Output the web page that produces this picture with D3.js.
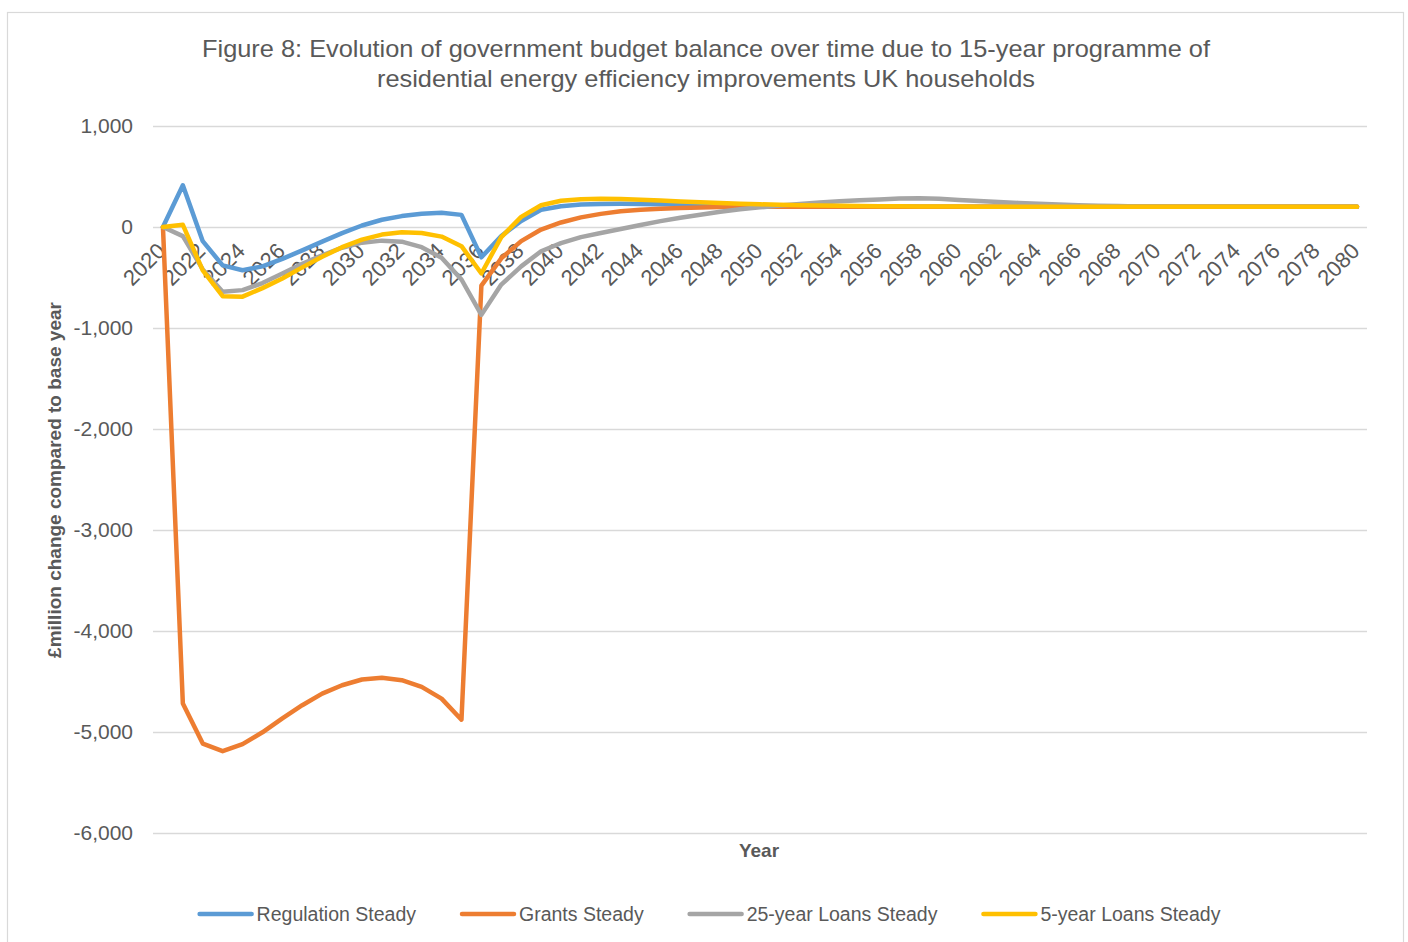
<!DOCTYPE html>
<html>
<head>
<meta charset="utf-8">
<script src="https://cdn.jsdelivr.net/npm/d3@7"></script>
<style>
  html, body { margin: 0; padding: 0; background: #ffffff; }
  svg { display: block; }
  text { font-family: "Liberation Sans", Arial, sans-serif; fill: #595959; }
</style>
</head>
<body>
<svg id="chart" width="1408" height="942"></svg>
<script>
// Years on the category axis
const years = d3.range(2020, 2081);

// £million change compared to base year, one value per year 2020–2080
const regulationSteady = [
  0, 413, -140, -380, -428, -390, -315, -232, -145, -60,
  15, 72, 108, 132, 140, 120, -300, -90, 60, 170,
  205, 222, 228, 230, 228, 225, 222, 218, 215, 212,
  210, 208, 206, 205, 204, 203, 202, 202, 201, 201,
  200, 200, 200, 200, 200, 200, 200, 200, 200, 200,
  200, 200, 200, 200, 200, 200, 200, 200, 200, 200, 200
];
const grantsSteady = [
  0, -4718, -5115, -5190, -5120, -5003, -4865, -4735, -4620, -4537,
  -4480, -4463, -4487, -4553, -4670, -4878, -580, -310, -140, -25,
  45, 95, 130, 155, 170, 180, 188, 193, 197, 199,
  200, 200, 200, 200, 200, 200, 200, 200, 200, 200,
  200, 200, 200, 200, 200, 200, 200, 200, 200, 200,
  200, 200, 200, 200, 200, 200, 200, 200, 200, 200, 200
];
const loans25Steady = [
  0, -90, -420, -640, -625, -555, -460, -365, -280, -205,
  -155, -135, -145, -200, -305, -520, -870, -570, -390, -240,
  -160, -100, -60, -20, 20, 58, 92, 122, 150, 175,
  195, 212, 228, 242, 255, 265, 273, 282, 285, 280,
  268, 258, 248, 238, 230, 222, 216, 211, 207, 204,
  202, 201, 200, 200, 200, 200, 200, 200, 200, 200, 200
];
const loans5Steady = [
  0, 22, -430, -685, -690, -605, -510, -400, -295, -200,
  -125, -75, -52, -60, -95, -190, -460, -100, 100, 215,
  260, 275, 280, 278, 270, 262, 253, 245, 237, 230,
  225, 220, 216, 213, 210, 208, 206, 205, 204, 203,
  202, 201, 200, 200, 200, 200, 200, 200, 200, 200,
  200, 200, 200, 200, 200, 200, 200, 200, 200, 200, 200
];

const seriesNames = ["Regulation Steady", "Grants Steady", "25-year Loans Steady", "5-year Loans Steady"];
const seriesValues = [regulationSteady, grantsSteady, loans25Steady, loans5Steady];
const seriesColors = ["#5B9BD5", "#ED7D31", "#A5A5A5", "#FFC000"];

const yTicks = [1000, 0, -1000, -2000, -3000, -4000, -5000, -6000];
const xLabelYears = years.filter(y => (y - 2020) % 2 === 0);

const titleLines = [
  "Figure 8: Evolution of government budget balance over time due to 15-year programme of",
  "residential energy efficiency improvements UK households"
];
const yAxisTitle = "£million change compared to base year";
const xAxisTitle = "Year";

const svg = d3.select("#chart");
const FONT = "\"Liberation Sans\", Arial, sans-serif";

// Chart area border
svg.append("rect")
  .attr("x", 7.5).attr("y", 12.5)
  .attr("width", 1396).attr("height", 940)
  .attr("fill", "#ffffff")
  .attr("stroke", "#d9d9d9")
  .attr("stroke-width", 1.2);

const plot = { left: 153, right: 1367, top: 126, bottom: 833 };

const x = d3.scalePoint()
  .domain(years)
  .range([plot.left, plot.right])
  .padding(0.5);

const y = d3.scaleLinear()
  .domain([-6000, 1000])
  .range([plot.bottom, plot.top]);

// Title, two centred lines
const titleWidths = [1008, 658];
titleLines.forEach((t, i) => {
  svg.append("text")
    .attr("x", 706)
    .attr("y", 57 + i * 30)
    .attr("text-anchor", "middle")
    .attr("textLength", titleWidths[i])
    .attr("lengthAdjust", "spacingAndGlyphs")
    .style("font-size", "24px")
    .text(t);
});

// Horizontal gridlines + value labels (hyphen minus, thousands separator)
const fmt = d3.format(",");
const yAxis = d3.axisLeft(y)
  .tickValues(yTicks)
  .tickSize(-(plot.right - plot.left))
  .tickPadding(20)
  .tickFormat(d => fmt(d).replace("\u2212", "-"));

const gy = svg.append("g")
  .attr("transform", `translate(${plot.left},0)`)
  .call(yAxis);
gy.select(".domain").remove();
gy.selectAll(".tick line")
  .attr("stroke", "#d9d9d9")
  .attr("stroke-width", 1.3);
gy.selectAll(".tick text")
  .style("font-size", "21px")
  .style("fill", "#595959")
  .style("font-family", FONT);

// Category axis labels (every second year), rotated
const xAxis = d3.axisBottom(x)
  .tickValues(xLabelYears)
  .tickSize(0)
  .tickFormat(d3.format("d"));

const gx = svg.append("g")
  .attr("transform", `translate(0,${y(0)})`)
  .call(xAxis);
gx.select(".domain").remove();
gx.selectAll(".tick text")
  .attr("y", 0)
  .attr("dy", "0.35em")
  .attr("text-anchor", "end")
  .attr("transform", "translate(-2,20) rotate(-45)")
  .style("font-size", "22px")
  .style("fill", "#595959")
  .style("font-family", FONT);

// Series lines
const line = d3.line()
  .x((d, i) => x(years[i]))
  .y(d => y(d));

seriesValues.forEach((vals, i) => {
  svg.append("path")
    .datum(vals)
    .attr("fill", "none")
    .attr("stroke", seriesColors[i])
    .attr("stroke-width", 4.5)
    .attr("stroke-linejoin", "round")
    .attr("stroke-linecap", "round")
    .attr("d", line);
});

// Axis titles
svg.append("text")
  .attr("transform", "translate(61,480) rotate(-90)")
  .attr("text-anchor", "middle")
  .style("font-size", "19px")
  .style("font-weight", "bold")
  .text(yAxisTitle);

svg.append("text")
  .attr("x", 759)
  .attr("y", 857)
  .attr("text-anchor", "middle")
  .style("font-size", "19px")
  .style("font-weight", "bold")
  .text(xAxisTitle);

// Legend
const legendY = 914;
const swatchW = 52, swatchGap = 5, itemGap = 46;
const legend = svg.append("g");
const items = seriesNames.map((name, i) => {
  const g = legend.append("g");
  g.append("line")
    .attr("x1", 0).attr("x2", swatchW)
    .attr("y1", 0).attr("y2", 0)
    .attr("stroke", seriesColors[i])
    .attr("stroke-width", 4.5)
    .attr("stroke-linecap", "round");
  const t = g.append("text")
    .attr("x", swatchW + swatchGap)
    .attr("y", 0)
    .attr("dy", "0.35em")
    .style("font-size", "19.5px")
    .text(name);
  return { g, w: swatchW + swatchGap + t.node().getComputedTextLength() };
});
const totalW = d3.sum(items, d => d.w) + itemGap * (items.length - 1);
let cx = 710 - totalW / 2;
items.forEach(it => {
  it.g.attr("transform", `translate(${cx},${legendY})`);
  cx += it.w + itemGap;
});
</script>
</body>
</html>
